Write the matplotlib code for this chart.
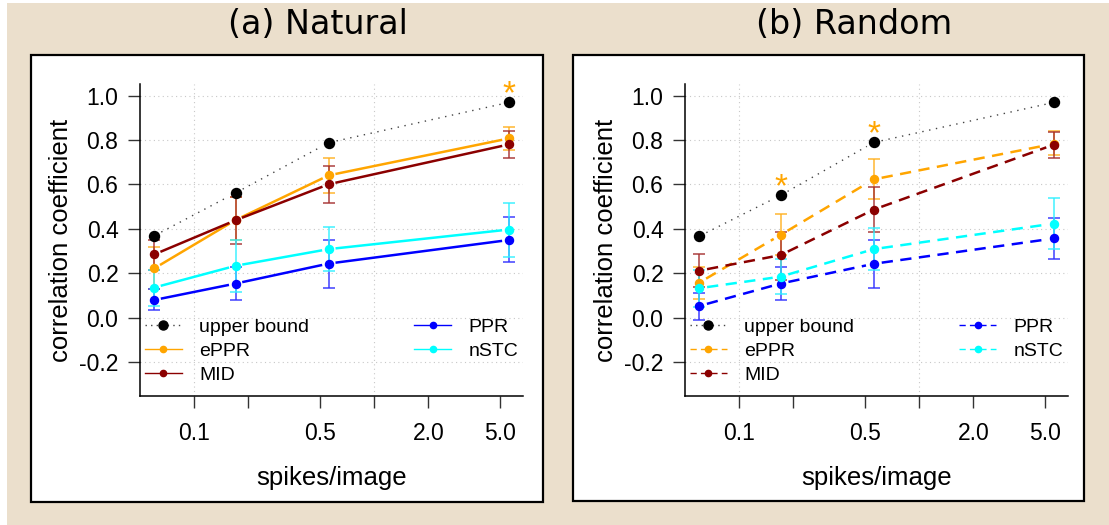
import matplotlib
matplotlib.use("Agg")
import matplotlib.pyplot as plt
from matplotlib.lines import Line2D
from matplotlib.patches import Rectangle
import numpy as np

plt.rcParams["font.family"] = ["Liberation Sans", "DejaVu Sans"]

spikes = [0.06, 0.17, 0.56, 5.6]
models = ["ePPR", "MID", "PPR", "nSTC"]
colors = {"ePPR": "#FFA500", "MID": "#8B0000", "PPR": "#0000FF", "nSTC": "#00FFFF"}
err_colors = {"ePPR": "#FFB020", "MID": "#A53030", "PPR": "#3030FF", "nSTC": "#30F0FF"}
xticks = [0.1, 0.2, 0.5, 1.0, 2.0, 5.0]
xticklabels = ["0.1", "", "0.5", "", "2.0", "5.0"]
yticks = [-0.2, 0.0, 0.2, 0.4, 0.6, 0.8, 1.0]

# (a) natural images
nat_upper = [0.369, 0.562, 0.788, 0.969]
nat_mean = {"ePPR": [0.222, 0.440, 0.641, 0.807],
            "MID": [0.285, 0.439, 0.601, 0.780],
            "PPR": [0.080, 0.154, 0.244, 0.350],
            "nSTC": [0.136, 0.234, 0.309, 0.397]}
nat_lo = {"ePPR": [0.130, 0.350, 0.563, 0.756],
          "MID": [0.215, 0.330, 0.517, 0.719],
          "PPR": [0.033, 0.080, 0.133, 0.249],
          "nSTC": [0.053, 0.115, 0.212, 0.275]}
nat_hi = {"ePPR": [0.320, 0.544, 0.719, 0.859],
          "MID": [0.352, 0.544, 0.684, 0.840],
          "PPR": [0.128, 0.227, 0.352, 0.454],
          "nSTC": [0.215, 0.350, 0.409, 0.517]}
nat_stars = [3]

# (b) random images
rnd_upper = [0.367, 0.551, 0.789, 0.969]
rnd_mean = {"ePPR": [0.158, 0.373, 0.623, 0.783],
            "MID": [0.212, 0.282, 0.487, 0.779],
            "PPR": [0.053, 0.154, 0.243, 0.357],
            "nSTC": [0.133, 0.185, 0.309, 0.424]}
rnd_lo = {"ePPR": [0.086, 0.282, 0.535, 0.731],
          "MID": [0.140, 0.170, 0.386, 0.719],
          "PPR": [-0.010, 0.080, 0.133, 0.263],
          "nSTC": [0.050, 0.107, 0.215, 0.308]}
rnd_hi = {"ePPR": [0.230, 0.465, 0.715, 0.839],
          "MID": [0.285, 0.387, 0.587, 0.834],
          "PPR": [0.110, 0.227, 0.352, 0.450],
          "nSTC": [0.215, 0.263, 0.405, 0.541]}
rnd_stars = [1, 2]

W, H = 1109, 525
fig = plt.figure(figsize=(W / 100, H / 100), dpi=100)
fig.patch.set_facecolor("white")
fig.patches.append(Rectangle((7 / W, 0), 1 - 7 / W, 1 - 3 / H, transform=fig.transFigure,
                             facecolor="#EBDFCC", edgecolor="none", zorder=-3))


def px_box(x0, y0, x1, y1):
    return [x0 / W, 1 - y1 / H, (x1 - x0) / W, (y1 - y0) / H]


def gapped_line(ax, x, y, gap, **kw):
    # line pieces between points, stopping short of each point
    pts = ax.transData.transform(np.column_stack([x, y]))
    inv = ax.transData.inverted()
    for p0, p1 in zip(pts[:-1], pts[1:]):
        d = p1 - p0
        u = d / np.hypot(*d)
        seg = inv.transform(np.array([p0 + u * gap, p1 - u * gap]))
        ax.plot(seg[:, 0], seg[:, 1], **kw)


def draw_panel(ax, upper, mean, lo, hi, stars, ls):
    ax.set_xscale("log")
    lx = np.log10([min(spikes), max(spikes)])
    pad = 0.04 * (lx[1] - lx[0])
    ax.set_xlim(10 ** (lx[0] - pad), 10 ** (lx[1] + pad))
    ax.set_ylim(-0.3 - 0.052, 1.0 + 0.052)
    ax.set_xticks(xticks)
    ax.set_xticklabels(xticklabels)
    ax.minorticks_off()
    ax.set_yticks(yticks)
    ax.set_yticklabels([f"{v:.1f}" for v in yticks])
    for v in yticks:
        ax.axhline(v, color="#c8c8c8", lw=0.8, ls=(0, (1, 3)), zorder=0)
    for v in [0.1, 1.0]:
        ax.axvline(v, color="#c8c8c8", lw=0.8, ls=(0, (1, 3)), zorder=0)
    for s in ["top", "right"]:
        ax.spines[s].set_visible(False)
    for s in ["left", "bottom"]:
        ax.spines[s].set_linewidth(1.1)
    ax.tick_params(direction="out", length=8.5, width=1.0, labelsize=16.5, color="#333333")
    ax.tick_params(axis="x", pad=10)
    ax.tick_params(axis="y", pad=7)

    gapped_line(ax, spikes, upper, 8, color="#444444", lw=1.0, ls=(0, (1, 4)), zorder=2)
    for m in models:
        gapped_line(ax, spikes, mean[m], 8, color=colors[m], lw=1.8, ls=ls, zorder=2)
        y = np.array(mean[m])
        yerr = [y - np.array(lo[m]), np.array(hi[m]) - y]
        ax.errorbar(spikes, y, yerr=yerr, fmt="none", ecolor=err_colors[m], elinewidth=1.2,
                    capsize=4.5, capthick=1.2, alpha=0.85, zorder=3)
        ax.plot(spikes, y, "o", color=colors[m], ms=5.8, zorder=4)
    ax.plot(spikes, upper, "o", color="black", ms=7.2, zorder=4)
    for i in stars:
        ax.text(spikes[i], upper[i] + 0.034, "*", color="#FFA500", fontsize=24,
                ha="center", va="center", zorder=5)

    ax.set_xlabel("spikes/image", fontsize=18.5)
    ax.set_ylabel("correlation coefficient", fontsize=18.5)
    ax.xaxis.set_label_coords(0.5, -0.225)
    ax.yaxis.set_label_coords(-0.175, 0.5)

    handles = [Line2D([], [], color="#444444", ls=(0, (1, 3)), lw=1.0, marker="o",
                      mfc="black", mec="black", ms=6.5)]
    for m in models:
        handles.append(Line2D([], [], color=colors[m], ls=ls, lw=1.0, marker="o", ms=4.5))
    ax.legend(handles, ["upper bound"] + models, ncol=2, loc="upper left",
              bbox_to_anchor=(0.013, 0.25), frameon=False, fontsize=14,
              borderpad=0, borderaxespad=0, handlelength=1.9, handletextpad=0.9,
              labelspacing=0.33, columnspacing=5.4, numpoints=1)


for (x0, y0, x1, y1) in [(31, 55, 543, 502), (573, 55, 1084, 501)]:
    fig.patches.append(Rectangle((x0 / W, 1 - y1 / H), (x1 - x0) / W, (y1 - y0) / H,
                                 transform=fig.transFigure, facecolor="white",
                                 edgecolor="black", lw=1.6, zorder=-2))

ax1 = fig.add_axes(px_box(140, 84, 523, 396))
ax2 = fig.add_axes(px_box(685, 84, 1068, 396))
for ax in (ax1, ax2):
    ax.patch.set_alpha(0)

draw_panel(ax1, nat_upper, nat_mean, nat_lo, nat_hi, nat_stars, "-")
draw_panel(ax2, rnd_upper, rnd_mean, rnd_lo, rnd_hi, rnd_stars, (0, (4.5, 3)))

fig.text(318 / W, 1 - 25 / H, "(a) Natural", fontsize=24, family="DejaVu Sans",
         ha="center", va="center")
fig.text(854 / W, 1 - 25 / H, "(b) Random", fontsize=24, family="DejaVu Sans",
         ha="center", va="center")

fig.savefig("out.png", dpi=100)
